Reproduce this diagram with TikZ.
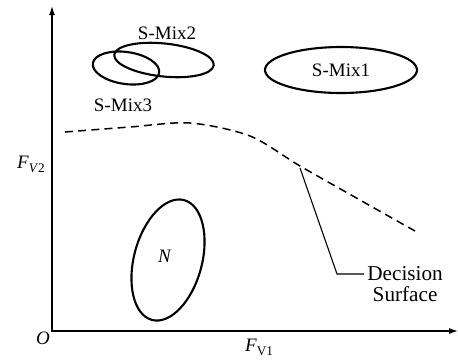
\documentclass[tikz,border=0pt]{standalone}
\usepackage{fontspec}
\setmainfont{Liberation Serif}
\usepackage{tikz}
\usetikzlibrary{shapes.geometric,arrows.meta}

\begin{document}
\begin{tikzpicture}[
    x=0.5pt, y=-0.5pt,
    font=\fontsize{9.5}{10.5}\selectfont,
    axis/.style={{Latex[length=4.5pt,width=3pt]}-{Latex[length=4.5pt,width=3pt]}, line width=0.65pt},
    blob/.style={draw, ellipse, line width=1.05pt, inner sep=0pt},
    surf/.style={dashed, dash pattern=on 4pt off 2.6pt, line width=0.75pt},
    lead/.style={line width=0.55pt},
  ]
  \newcommand{\lowsub}[1]{\raisebox{-0.45ex}{\fontsize{6.6}{7}\selectfont #1}}
  \useasboundingbox (0,0) rectangle (458,359);

  % ========================= EJES =========================
  \coordinate (O) at (52,331);
  \coordinate (ytip) at (52,6);
  \coordinate (xtip) at (458,331);
  \draw[axis] (ytip) -- (O) -- (xtip);
  \node (olab) at (43,338) {\textit{O}};
  \node (fv2) at (31,164) {\textit{F}\lowsub{\textit{V}2}};
  \node (fv1) at (259,347) {\textit{F}\lowsub{V1}};

  % ======================= CLASES =========================
  \node[blob, minimum width=76pt, minimum height=23pt] (smix1) at (341,70) {S-Mix1};
  \node[blob, minimum width=50pt, minimum height=16.5pt, rotate=-6] (smix2) at (164,60) {};
  \node[blob, minimum width=33.5pt, minimum height=16pt, rotate=-8] (smix3) at (126,68) {};
  \node (l2) at (167,33) {S-Mix2};
  \node (l3) at (123,105) {S-Mix3};
  \node[blob, minimum width=34pt, minimum height=62pt, rotate=-15] (nset) at (168,260) {};
  \node at (nset.center) [xshift=-1.5pt, yshift=2pt] (nlab) {\textit{N}};

  % =================== SUPERFICIE DE DECISION =============
  \draw[surf] plot[smooth] coordinates {
    (65,132) (130,127) (190,123) (250,136) (300,166) (360,200) (415,231)};
  \coordinate (ds) at (300,168);
  \coordinate (knee) at (337,274);
  \node[anchor=west, align=center, inner sep=1.5pt, font=\fontsize{10.6}{10.8}\selectfont]
    (dlab) at (364,284) {Decision\\Surface};
  \draw[lead] (ds) -- (knee) -- (dlab.west |- knee);
\end{tikzpicture}
\end{document}
